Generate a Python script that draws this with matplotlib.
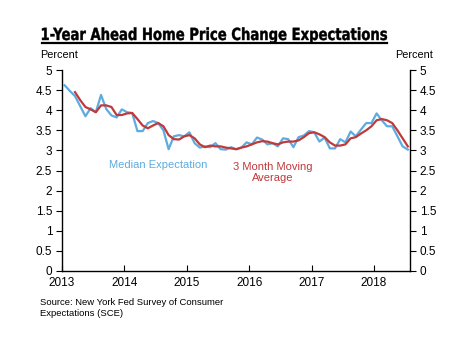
import matplotlib
matplotlib.use('Agg')
import matplotlib.pyplot as plt
from matplotlib.lines import Line2D
from matplotlib.textpath import TextPath
from matplotlib.patches import PathPatch
from matplotlib.font_manager import FontProperties
from matplotlib.transforms import Affine2D, IdentityTransform
import numpy as np

plt.rcParams['font.family'] = ['Liberation Sans', 'DejaVu Sans']

# monthly readings, Jan 2013 - Jul 2018
median = [4.62, 4.48, 4.35, 4.10, 3.85, 4.05, 3.95, 4.38, 4.03, 3.87,
          3.82, 4.02, 3.95, 3.93, 3.48, 3.48, 3.68, 3.73, 3.68, 3.50,
          3.03, 3.35, 3.38, 3.35, 3.45, 3.18, 3.07, 3.10, 3.08, 3.18,
          3.03, 3.02, 3.08, 3.03, 3.07, 3.20, 3.15, 3.32, 3.27, 3.15,
          3.18, 3.10, 3.30, 3.28, 3.08, 3.33, 3.37, 3.48, 3.45, 3.22,
          3.32, 3.05, 3.05, 3.28, 3.20, 3.47, 3.35, 3.52, 3.68, 3.68,
          3.92, 3.75, 3.60, 3.60, 3.35, 3.10, 3.02]
# 3 month moving average, starts with the 3rd month
moving_avg = [4.45, 4.25, 4.08, 4.02, 3.95, 4.12, 4.12, 4.08, 3.88, 3.88,
              3.92, 3.93, 3.78, 3.62, 3.55, 3.62, 3.68, 3.60, 3.38, 3.28,
              3.27, 3.35, 3.38, 3.30, 3.15, 3.08, 3.12, 3.10, 3.10, 3.07,
              3.05, 3.03, 3.07, 3.10, 3.15, 3.20, 3.23, 3.22, 3.18, 3.15,
              3.20, 3.22, 3.22, 3.25, 3.33, 3.43, 3.45, 3.40, 3.33, 3.20,
              3.12, 3.12, 3.15, 3.30, 3.33, 3.42, 3.50, 3.60, 3.75, 3.78,
              3.75, 3.68, 3.50, 3.30, 3.10]
years = [2013, 2014, 2015, 2016, 2017, 2018]

x_med = 2013 + (np.arange(len(median)) + 0.5) / 12
x_avg = x_med[len(median) - len(moving_avg):]

blue = '#5eabdf'
red = '#c0393b'

fig = plt.figure(figsize=(4.76, 3.57), dpi=100)
ax = fig.add_axes([0.1303, 0.2409, 0.7311, 0.563])

ax.plot(x_med, median, color=blue, lw=1.6)
ax.plot(x_avg, moving_avg, color=red, lw=1.6)

ax.set_xlim(2013, 2018.577)
ax.set_ylim(0, 5)
ax.set_xticks(years)
ax.set_xticklabels([str(y) for y in years])
ax.set_yticks(np.arange(0, 5.01, 0.5))
ax.set_yticklabels(['0', '0.5', '1', '1.5', '2', '2.5', '3', '3.5', '4', '4.5', '5'])
ax.spines['top'].set_visible(False)
ax.tick_params(axis='y', direction='out', length=4, labelsize=8.5, left=True, right=True,
               labelleft=True, labelright=True, width=0.8, pad=3)
ax.tick_params(axis='x', direction='in', length=4, labelsize=8.5, width=0.8, pad=4)
for s in ['left', 'right', 'bottom']:
    ax.spines[s].set_linewidth(1.0)

ax.text(2014.54, 2.63, 'Median Expectation', color=blue, fontsize=8, ha='center', va='center')
ax.text(2016.37, 2.45, '3 Month Moving\nAverage', color=red, fontsize=8, ha='center',
        va='center', linespacing=1.05)

# condensed heavy title, squeezed horizontally to the reference width
title = '1-Year Ahead Home Price Change Expectations'
tp = TextPath((0, 0), title, size=12, prop=FontProperties(family='DejaVu Sans', weight='bold'))
ext = tp.get_extents()
px = 100 / 72
sx = 345 / ext.width
tr = Affine2D().scale(sx, px).translate(42 - ext.x0 * sx, 357 - 40)
fig.add_artist(PathPatch(tp, transform=tr + IdentityTransform(), color='black', lw=0.3))
fig.add_artist(Line2D([42 / 476, 387 / 476], [1 - 43 / 357, 1 - 43 / 357],
                      transform=fig.transFigure, color='black', lw=1.6))

fig.text(40 / 476, 1 - 55 / 357, 'Percent', fontsize=7.8, ha='left', va='center')
fig.text(433 / 476, 1 - 55 / 357, 'Percent', fontsize=7.8, ha='right', va='center')
fig.text(40 / 476, 1 - 308 / 357, 'Source: New York Fed Survey of Consumer\nExpectations (SCE)',
         fontsize=6.8, ha='left', va='center', linespacing=1.25)

fig.savefig('out.png', dpi=100)
